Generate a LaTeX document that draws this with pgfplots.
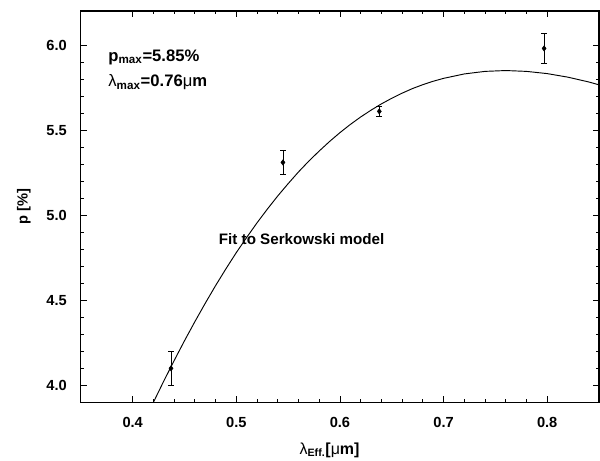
\documentclass[border=0pt]{standalone}
\usepackage{fontspec}
\setmainfont{Liberation Sans}
\usepackage{pgfplots}
\pgfplotsset{compat=1.18}
\begin{document}
\begin{tikzpicture}
\begin{axis}[
    name=ax,
    scale only axis,
    width=389.25pt, height=294pt,
    xmin=0.35, xmax=0.85,
    ymin=3.9, ymax=6.2,
    xtick={0.4,0.5,0.6,0.7,0.8},
    ytick={4.0,4.5,5.0,5.5,6.0},
    minor x tick num=4,
    minor y tick num=4,
    tick align=inside,
    major tick length=4.5pt,
    minor tick length=2.5pt,
    axis line style={line width=0.9pt},
    every tick/.style={black, line width=0.6pt},
    tick label style={font=\fontsize{11}{13}\selectfont\bfseries},
    /pgf/number format/assume math mode=true,
    xticklabel style={yshift=-8pt, /pgf/number format/.cd, fixed, fixed zerofill, precision=1},
    yticklabel style={xshift=-7pt, /pgf/number format/.cd, fixed, fixed zerofill, precision=1},
    xlabel={{\fontsize{12}{14}\selectfont\mdseries λ\textsubscript{\bfseries Eff.}\bfseries[\mdseries μ\bfseries m]}},
    ylabel={{\fontsize{11}{13}\selectfont\bfseries p [\%]}},
    xlabel style={at={(ticklabel cs:0.48)}, anchor=north, yshift=-4pt},
    ylabel style={yshift=5pt},
]

% Serkowski fit
\addplot[black, line width=0.7pt] coordinates {
    (0.42,3.900) (0.43,4.025) (0.44,4.145) (0.45,4.262) (0.46,4.374)
    (0.47,4.482) (0.48,4.586) (0.49,4.685) (0.50,4.780) (0.51,4.869)
    (0.52,4.955) (0.53,5.036) (0.54,5.113) (0.55,5.185) (0.56,5.254)
    (0.57,5.318) (0.58,5.377) (0.59,5.433) (0.60,5.485) (0.61,5.533)
    (0.62,5.577) (0.63,5.617) (0.64,5.654) (0.65,5.687) (0.66,5.717)
    (0.67,5.744) (0.68,5.767) (0.69,5.787) (0.70,5.804) (0.72,5.830)
    (0.74,5.845) (0.76,5.850) (0.78,5.845) (0.80,5.832) (0.82,5.811)
    (0.84,5.783) (0.85,5.766)
};

% measured polarisation
\addplot[black, only marks, mark=diamond*, mark size=2pt,
    error bars/.cd, y dir=both, y explicit,
    error bar style={line width=0.6pt},
    error mark options={rotate=90, mark size=2.2pt, line width=0.6pt}]
coordinates {
    (0.437,4.10) +- (0,0.10)
    (0.545,5.31) +- (0,0.07)
    (0.638,5.61) +- (0,0.03)
    (0.797,5.98) +- (0,0.09)
};

\node[anchor=west, font=\fontsize{12.5}{14}\selectfont\bfseries] at (axis cs:0.372,5.93)
    {p\textsubscript{\bfseries max}=5.85\%};
\node[anchor=west, font=\fontsize{12.5}{14}\selectfont\bfseries] at (axis cs:0.372,5.78)
    {\mdseries λ\textsubscript{\bfseries max}\bfseries=0.76\mdseries μ\bfseries m};
\node[font=\fontsize{11.4}{13}\selectfont\bfseries] at (axis cs:0.563,4.86)
    {Fit to Serkowski model};
\end{axis}
\pgfresetboundingbox
\path[use as bounding box] ([xshift=-60.75pt,yshift=-43.5pt]ax.south west)
    rectangle ([xshift=0.75pt,yshift=8.25pt]ax.north east);
\end{tikzpicture}
\end{document}
